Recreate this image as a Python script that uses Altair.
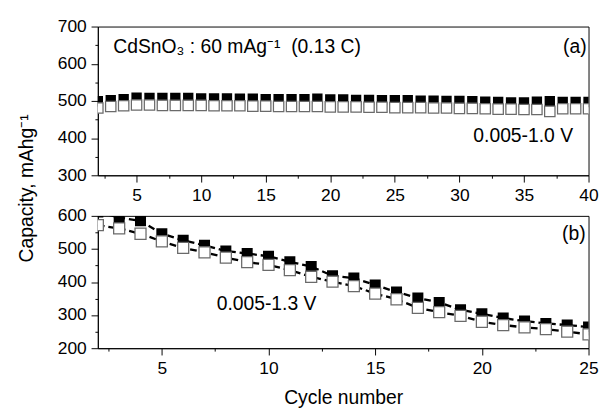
import altair as alt
import pandas as pd

FONT = "Liberation Sans"

# ---- panel (a): 0.005-1.0 V ----
cyc_a = list(range(2, 41))
charge_a = [499, 502, 505, 509, 508, 508, 508, 508, 507, 507, 507, 506, 506, 505,
            505, 505, 505, 506, 504, 504, 503, 503, 502, 502, 502, 501, 501, 500,
            500, 499, 498, 497, 496, 496, 498, 499, 497, 497, 497]
discharge_a = [481, 485, 487, 489, 489, 488, 488, 488, 488, 487, 487, 487, 486, 486,
               485, 485, 485, 485, 484, 484, 484, 483, 483, 482, 482, 482, 481, 481,
               480, 480, 479, 478, 478, 477, 477, 472, 479, 479, 479]

# ---- panel (b): 0.005-1.3 V ----
cyc_b = list(range(2, 26))
charge_b = [612, 595, 585, 546, 526, 511, 494, 486, 478, 461, 447, 419, 412, 391,
            370, 352, 338, 316, 304, 291, 282, 275, 270, 264]
discharge_b = [572, 562, 546, 523, 503, 490, 474, 460, 452, 436, 416, 401, 388, 365,
               348, 322, 309, 298, 280, 270, 263, 258, 250, 242]

xticks_a = [2.5 + 2.5 * i for i in range(16)]
xticks_b = [2.5 + 2.5 * i for i in range(10)]
yticks_a = [300 + 50 * i for i in range(9)]
yticks_b = [200 + 50 * i for i in range(9)]

df_a = pd.DataFrame({"cycle": cyc_a, "charge": charge_a, "discharge": discharge_a})
df_b = pd.DataFrame({"cycle": cyc_b, "charge": charge_b, "discharge": discharge_b})


def x_axis(values, title):
    return alt.Axis(
        values=values, title=title, grid=False,
        labelExpr="datum.value % 5 === 0 ? datum.label : ''",
        tickSize={"condition": {"test": "datum.value % 5 === 0", "value": 7}, "value": 3},
        labelPadding=5, labelFlush=False, labelOverlap=False, titlePadding=11,
    )


def y_axis(values):
    return alt.Axis(
        values=values, title=None, grid=False,
        labelExpr="datum.value % 100 === 0 ? datum.label : ''",
        tickSize={"condition": {"test": "datum.value % 100 === 0", "value": 7}, "value": 3},
        labelPadding=5, labelFlush=False, labelOverlap=False,
    )


def panel(df, xdom, ydom, xticks, yticks, xtitle, size, lines):
    base = alt.Chart(df)
    xenc = alt.X("cycle:Q", scale=alt.Scale(domain=xdom, nice=False, zero=False),
                 axis=x_axis(xticks, xtitle))
    layers = []
    if lines:
        for col in ["charge", "discharge"]:
            layers.append(base.mark_line(color="black", strokeWidth=2.4,
                                         strokeDash=[7, 4], clip=True).encode(
                x=xenc,
                y=alt.Y(f"{col}:Q", scale=alt.Scale(domain=ydom, nice=False, zero=False),
                        axis=y_axis(yticks))))
    layers.append(base.mark_point(shape="square", filled=True, color="black",
                                  size=size, opacity=1, clip=True).encode(
        x=xenc,
        y=alt.Y("charge:Q", scale=alt.Scale(domain=ydom, nice=False, zero=False),
                axis=y_axis(yticks))))
    layers.append(base.mark_point(shape="square", filled=True, fill="white",
                                  stroke="#6a6a6a", strokeWidth=1.3, size=size,
                                  opacity=1, clip=True).encode(
        x=xenc,
        y=alt.Y("discharge:Q", scale=alt.Scale(domain=ydom, nice=False, zero=False),
                axis=y_axis(yticks))))
    return layers


def label(text, x, y, align):
    return alt.Chart(pd.DataFrame({"t": [text]})).mark_text(
        font=FONT, fontSize=20, align=align, baseline="alphabetic", color="black"
    ).encode(text="t:N", x=alt.value(x), y=alt.value(y))


W = 508
top_layers = panel(df_a, [2, 40], [300, 700], xticks_a, yticks_a, None, 115, False)
top = alt.layer(
    *top_layers,
    label("CdSnO\u2083 : 60 mAg\u207b\u00b9\u00a0\u00a0(0.13 C)", 16, 27, "left"),
    label("(a)", 506, 27, "right"),
    label("0.005-1.0 V", 492, 119, "right"),
).properties(width=W, height=154)

bot_layers = panel(df_b, [2, 25], [200, 600], xticks_b, yticks_b, "Cycle number", 130, True)
bot = alt.layer(
    *bot_layers,
    label("(b)", 505, 25, "right"),
    label("0.005-1.3 V", 123, 97, "left"),
).properties(width=W, height=137)

chart = alt.vconcat(
    top, bot, spacing=1,
    title=alt.TitleParams("Capacity, mAhg\u207b\u00b9", orient="left", anchor="middle",
                          font=FONT, fontSize=20, fontWeight="normal", color="black",
                          offset=21, dx=25),
).properties(
    padding={"left": 9, "top": 2, "right": 5, "bottom": 2}
).configure_view(
    stroke="black", strokeWidth=1
).configure_axis(
    labelFont=FONT, labelFontSize=18, labelColor="black",
    titleFont=FONT, titleFontSize=20, titleFontWeight="normal", titleColor="black",
    domainColor="black", tickColor="black", domainWidth=1, tickWidth=1,
)

chart.save("out.html", embed_options={"renderer": "svg", "actions": False})
